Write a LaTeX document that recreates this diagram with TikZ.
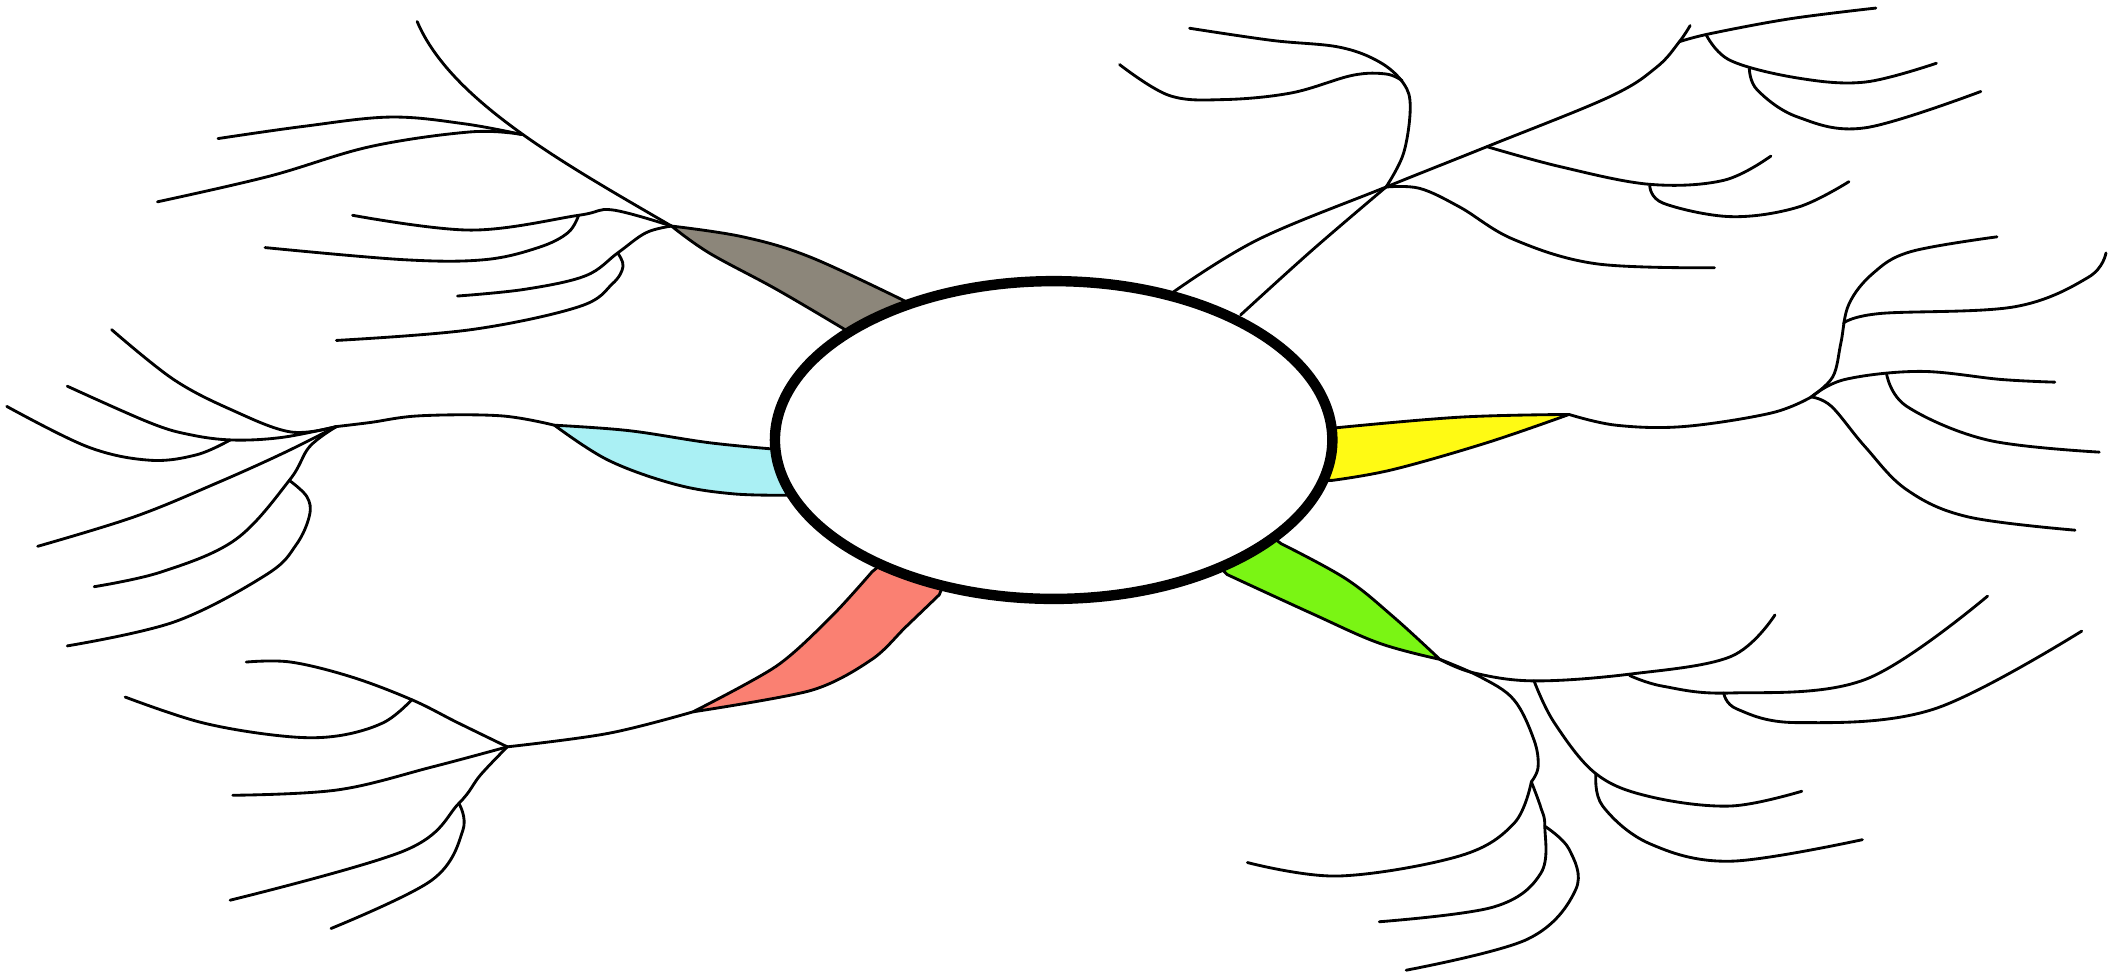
\documentclass[tikz,border=0pt]{standalone}
\usetikzlibrary{shapes.geometric}
\definecolor{cgray}{RGB}{140,134,122}
\definecolor{ccyan}{RGB}{170,240,244}
\definecolor{cyell}{RGB}{255,250,20}
\definecolor{cred}{RGB}{250,128,114}
\definecolor{cgreen}{RGB}{122,245,20}
\begin{document}
\begin{tikzpicture}[x=0.01cm,y=-0.01cm,
  br/.style={draw=black,line width=0.6pt,line cap=round,line join=round},
  band/.style={fill=#1,draw=black,line width=0.6pt,line join=round}]
\useasboundingbox (0,0) rectangle (1568,728);
\fill[white] (0,0) rectangle (1568,728);

% junction coordinates
\coordinate (tg) at (499,168);
\coordinate (tc) at (412,316);
\coordinate (tr) at (515,529);
\coordinate (ty) at (1166,308);
\coordinate (tgr) at (1070,490);
\coordinate (jl) at (250,317);
\coordinate (jr) at (377,555);
\coordinate (jy) at (1346,295);
\coordinate (ja) at (1030,139);
\coordinate (jb) at (1105,109);
\coordinate (jt) at (388,100);

% ---------- coloured bands ----------
\path[band=cgray] plot[smooth,tension=.6] coordinates {(tg) (552,176) (602,191) (673,224)}
  -- (690,245) -- (640,265) -- plot[smooth,tension=.6] coordinates {(628,245) (577,215) (527,188) (tg)} -- cycle;
\path[band=ccyan] plot[smooth,tension=.6] coordinates {(tc) (467,320) (527,329) (578,334)}
  -- (600,334) -- (600,368) -- plot[smooth,tension=.6] coordinates {(587,368) (545,367) (502,360) (452,342) (tc)} -- cycle;
\path[band=cred] plot[smooth,tension=.5] coordinates {(tr) (577,495) (618,458) (648,425)}
  -- (660,415) -- (705,425) -- plot[smooth,tension=.5] coordinates {(698,442) (673,466) (648,490) (603,513) (tr)} -- cycle;
\path[band=cyell] plot[smooth,tension=.6] coordinates {(ty) (1085,310) (992,318)}
  -- (975,318) -- (975,357) -- plot[smooth,tension=.6] coordinates {(990,357) (1035,349) (1105,329) (ty)} -- cycle;
\path[band=cgreen] plot[smooth,tension=.6] coordinates {(tgr) (1035,458) (1000,430) (952,404)}
  -- (940,395) -- (900,415) -- plot[smooth,tension=.6] coordinates {(912,427) (975,456) (1025,478) (tgr)} -- cycle;

% ---------- top-left (gray) ----------
\draw[br] (tg) .. controls (420,122) and (335,75) .. (310,16);
\draw[br] plot[smooth,tension=.6] coordinates {(162,103) (225,94) (290,87) (345,92) (jt)};
\draw[br] plot[smooth,tension=.6] coordinates {(117,150) (200,131) (275,109) (350,98) (jt)};
\draw[br] plot[smooth,tension=.6] coordinates {(tg) (455,156) (430,160) (350,171) (262,160)};
\draw[br] plot[smooth,tension=.6] coordinates {(430,160) (422,173) (400,184) (360,193) (300,193) (197,184)};
\draw[br] plot[smooth,tension=.6] coordinates {(tg) (480,173) (459,188) (435,205) (390,215) (340,220)};
\draw[br] plot[smooth,tension=.6] coordinates {(459,188) (463,198) (455,211) (430,228) (350,245) (250,253)};

% ---------- left (cyan) ----------
\draw[br] plot[smooth,tension=.6] coordinates {(tc) (372,309) (312,309) (275,314) (jl)};
\draw[br] plot[smooth,tension=.6] coordinates {(83,245) (129,282) (173,305) (216,321) (jl)};
\draw[br] plot[smooth,tension=.6] coordinates {(50,287) (111,314) (141,323) (173,327) (210,325) (jl)};
\draw[br] plot[smooth,tension=.6] coordinates {(5,302) (65,332) (111,342) (146,338) (171,327)};
\draw[br] plot[smooth,tension=.6] coordinates {(jl) (210,337) (161,359) (100,384) (28,406)};
\draw[br] plot[smooth,tension=.6] coordinates {(jl) (230,332) (215,357) (175,401) (120,425) (70,436)};
\draw[br] plot[smooth,tension=.6] coordinates {(215,357) (228,369) (230,383) (220,405) (198,427) (130,462) (50,480)};

% ---------- bottom-left (red) ----------
\draw[br] plot[smooth,tension=.6] coordinates {(tr) (452,545) (jr)};
\draw[br] plot[smooth,tension=.6] coordinates {(jr) (340,537) (306,520) (261,503) (216,492) (183,492)};
\draw[br] plot[smooth,tension=.6] coordinates {(306,520) (285,537) (250,547) (210,547) (150,537) (93,518)};
\draw[br] plot[smooth,tension=.6] coordinates {(jr) (321,570) (251,587) (173,591)};
\draw[br] plot[smooth,tension=.6] coordinates {(jr) (357,576) (341,597) (301,632) (171,669)};
\draw[br] plot[smooth,tension=.6] coordinates {(341,597) (344,617) (321,654) (246,690)};

% ---------- right (yellow) ----------
\draw[br] plot[smooth,tension=.6] coordinates {(ty) (1201,316) (1251,317) (1316,307) (jy)};
\draw[br] plot[smooth,tension=.6] coordinates {(jy) (1362,280) (1368,255) (1374,226) (1392,203) (1420,187) (1484,176)};
\draw[br] plot[smooth,tension=.6] coordinates {(1370,240) (1397,233) (1497,228) (1552,206) (1565,188)};
\draw[br] plot[smooth,tension=.6] coordinates {(jy) (1371,282) (1427,276) (1487,282) (1527,284)};
\draw[br] plot[smooth,tension=.6] coordinates {(1402,278) (1417,302) (1477,327) (1560,336)};
\draw[br] plot[smooth,tension=.6] coordinates {(jy) (1361,302) (1386,332) (1417,364) (1462,384) (1542,394)};

% ---------- top-right ----------
\draw[br] plot[smooth,tension=.6] coordinates {(872,217) (935,178) (ja) (jb) (1196,72) (1231,50) (1248,31) (1256,19)};
\draw[br] plot[smooth,tension=.6] coordinates {(1248,31) (1271,25) (1330,14) (1394,6)};
\draw[br] plot[smooth,tension=.6] coordinates {(1268,26) (1286,45) (1336,58) (1386,61) (1439,47)};
\draw[br] plot[smooth,tension=.6] coordinates {(1300,51) (1306,67) (1336,87) (1386,95) (1472,68)};
\draw[br] plot[smooth,tension=.6] coordinates {(jb) (1160,124) (1226,137) (1281,134) (1316,116)};
\draw[br] plot[smooth,tension=.6] coordinates {(1226,138) (1236,151) (1286,161) (1336,154) (1374,135)};
\draw[br] plot[smooth,tension=.6] coordinates {(922,234) (975,186) (ja)};
\draw[br] plot[smooth,tension=.6] coordinates {(ja) (1055,140) (1085,154) (1125,178) (1186,196) (1274,199)};
\draw[br] plot[smooth,tension=.6] coordinates {(ja) (1043,114) (1048,80) (1043,62) (1025,46) (995,35) (945,30) (884,21)};
\draw[br] plot[smooth,tension=.6] coordinates {(1042,60) (1030,55) (1005,56) (960,69) (910,74) (869,71) (832,48)};

% ---------- bottom-right (green) ----------
\draw[br] plot[smooth,tension=.6] coordinates {(tgr) (1095,500) (1140,506) (1211,501) (1286,488) (1319,457)};
\draw[br] plot[smooth,tension=.6] coordinates {(1211,502) (1236,510) (1286,515) (1386,505) (1477,443)};
\draw[br] plot[smooth,tension=.6] coordinates {(1281,515) (1291,527) (1336,537) (1437,527) (1547,469)};
\draw[br] plot[smooth,tension=.6] coordinates {(1140,506) (1155,537) (1186,575) (1226,592) (1286,599) (1339,588)};
\draw[br] plot[smooth,tension=.6] coordinates {(1186,575) (1191,599) (1226,627) (1286,640) (1384,624)};
\draw[br] plot[smooth,tension=.6] coordinates {(tgr) (1100,503) (1125,520) (1140,550) (1143,570) (1138,581)};
\draw[br] plot[smooth,tension=.6] coordinates {(1138,581) (1125,612) (1085,636) (995,651) (927,641)};
\draw[br] plot[smooth,tension=.6] coordinates {(1138,581) (1145,600) (1148,614) (1145,649) (1110,674) (1025,685)};
\draw[br] plot[smooth,tension=.6] coordinates {(1148,614) (1166,631) (1171,661) (1135,698) (1045,721)};

% ---------- central ellipse ----------
\node[ellipse, draw=black, line width=2.2pt, fill=white, inner sep=0pt,
      minimum width=4.14cm, minimum height=2.36cm] (hub) at (783,327) {};
\end{tikzpicture}
\end{document}
